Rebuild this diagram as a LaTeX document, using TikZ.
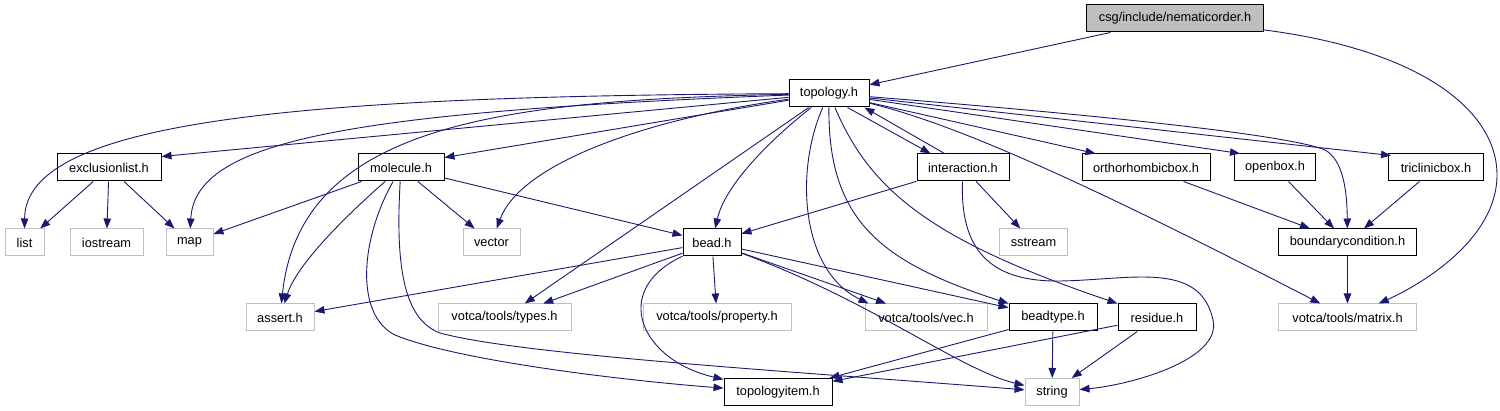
\documentclass[tikz,border=0pt]{standalone}
\usepackage{fontspec}
\setmainfont{Liberation Sans}
\usepackage{tikz}
\usetikzlibrary{arrows.meta,calc}
\definecolor{edgeblue}{HTML}{191970}
\definecolor{sysgray}{HTML}{BFBFBF}

\begin{document}
\begin{tikzpicture}[
    x=1pt, y=-1pt,
    hdr/.style={rectangle, draw=black, fill=white, line width=1pt, minimum height=27pt,
                inner sep=0pt, font=\fontsize{12.8}{15}\selectfont},
    syshdr/.style={hdr, draw=sysgray},
    roothdr/.style={hdr, fill=sysgray},
    inc/.style={-{Triangle[length=10pt,width=7.5pt]}, line width=0.9pt, edgeblue}
]
\useasboundingbox (0,0) rectangle (1500,411);

% Headers
\node[roothdr, minimum width=177pt] (nem) at (1175,18.5) {csg/include/nematicorder.h};
\node[hdr, minimum width=80pt] (topo) at (829,93.5) {topology.h};

\node[hdr, minimum width=104pt] (excl) at (109,167.5) {exclusionlist.h};
\node[hdr, minimum width=86pt] (mol) at (401,167.5) {molecule.h};
\node[hdr, minimum width=92pt] (inter) at (963,167.5) {interaction.h};
\node[hdr, minimum width=128pt] (ortho) at (1146,167.5) {orthorhombicbox.h};
\node[hdr, minimum width=81pt] (openb) at (1275,167.5) {openbox.h};
\node[hdr, minimum width=95pt] (tricl) at (1436,167.5) {triclinicbox.h};

\node[syshdr, minimum width=39pt] (list) at (24.5,242.5) {list};
\node[syshdr, minimum width=73pt] (iostr) at (106.5,242.5) {iostream};
\node[syshdr, minimum width=47pt] (map) at (189.5,242.5) {map};
\node[syshdr, minimum width=57pt] (vector) at (491.5,242.5) {vector};
\node[hdr, minimum width=58pt] (bead) at (712,242.5) {bead.h};
\node[syshdr, minimum width=68pt] (sstream) at (1033.5,242.5) {sstream};
\node[hdr, minimum width=138pt] (bcond) at (1347.5,242.5) {boundarycondition.h};

\node[syshdr, minimum width=68pt] (assert) at (280,317.5) {assert.h};
\node[syshdr, minimum width=133pt] (types) at (504.5,317.5) {votca/tools/types.h};
\node[syshdr, minimum width=148pt] (prop) at (717,317.5) {votca/tools/property.h};
\node[syshdr, minimum width=122pt] (vec) at (926,317.5) {votca/tools/vec.h};
\node[hdr, minimum width=88pt] (btype) at (1053,317.5) {beadtype.h};
\node[hdr, minimum width=78pt] (resid) at (1157,317.5) {residue.h};
\node[syshdr, minimum width=138pt] (matrix) at (1347.5,317.5) {votca/tools/matrix.h};

\node[hdr, minimum width=108pt] (titem) at (778,392) {topologyitem.h};
\node[syshdr, minimum width=54pt] (string) at (1052,392) {string};

% nematicorder.h
\draw[inc] (nem) -- (topo);
\draw[inc] (nem) .. controls (1420,50) and (1497,110) .. (1497,175) .. controls (1497,240) and (1420,285) .. (matrix);

% topology.h
\draw[inc] (topo) .. controls (300,96) and (25,120) .. (list);
\draw[inc] (topo) -- ($(excl.north east)+(0,3)$);
\draw[inc] (topo) .. controls (350,112) and (195,140) .. (map);
\draw[inc] (topo) .. controls (500,100) and (300,125) .. (assert);
\draw[inc] (topo) -- ($(mol.north east)+(0,4)$);
\draw[inc] (topo) .. controls (640,120) and (520,165) .. (vector);
\draw[inc] (topo) -- (types);
\draw[inc] (topo) .. controls (770,140) and (725,185) .. (bead);
\draw[inc] (topo) .. controls (795,170) and (800,270) .. ($(vec.north west)+(4,0)$);
\draw[inc] (topo) .. controls (828,220) and (880,262) .. (btype.north west);
\draw[inc] (topo) .. controls (870,190) and (930,240) .. (resid.north west);
\draw[inc] ($(topo.south east)+(-22,0)$) -- ($(inter.north west)+(14,0)$);
\draw[inc] (topo) -- ($(ortho.north west)+(14,0)$);
\draw[inc] (topo) -- ($(openb.north west)+(6,0)$);
\draw[inc] (topo) -- ($(tricl.north west)+(3,2)$);
\draw[inc] (topo) .. controls (1100,115) and (1290,135) .. (1325,150) .. controls (1343,160) and (1347,190) .. (bcond);
\draw[inc] (topo) .. controls (960,125) and (1100,190) .. (matrix);

% interaction.h
\draw[inc] ($(inter.north west)+(28,0)$) -- ($(topo.south east)+(-5,0)$);
\draw[inc] (inter) -- (bead);
\draw[inc] (inter) -- (sstream);
\draw[inc] (inter) .. controls (960,250) and (990,282) .. (1060,281) .. controls (1130,280) and (1200,260) .. (1213,320) .. controls (1222,360) and (1130,385) .. (string);

% exclusionlist.h
\draw[inc] (excl) -- (list);
\draw[inc] (excl) -- (iostr);
\draw[inc] (excl) -- (map);

% molecule.h
\draw[inc] (mol) -- (map);
\draw[inc] (mol) .. controls (330,230) and (295,270) .. (assert);
\draw[inc] (mol) -- (vector);
\draw[inc] (mol) -- (bead);
\draw[inc] (mol) .. controls (360,240) and (355,315) .. (395,335) .. controls (460,362) and (640,382) .. (titem);
\draw[inc] (mol) .. controls (395,270) and (405,320) .. (440,333) .. controls (520,355) and (800,372) .. (string);

% bead.h
\draw[inc] (bead) -- (assert);
\draw[inc] (bead) -- (types);
\draw[inc] (bead) -- (prop);
\draw[inc] (bead) -- (vec);
\draw[inc] (bead) -- (btype);
\draw[inc] (bead) .. controls (610,290) and (640,360) .. (titem);
\draw[inc] (bead) .. controls (870,300) and (960,370) .. (string);

% beadtype.h, residue.h
\draw[inc] (btype) -- (titem);
\draw[inc] (btype) -- (string);
\draw[inc] (resid) -- (titem);
\draw[inc] (resid) -- (string);

% boxes
\draw[inc] (ortho) -- (bcond);
\draw[inc] (openb) -- (bcond);
\draw[inc] (tricl) -- (bcond);
\draw[inc] (bcond) -- (matrix);
\end{tikzpicture}
\end{document}
